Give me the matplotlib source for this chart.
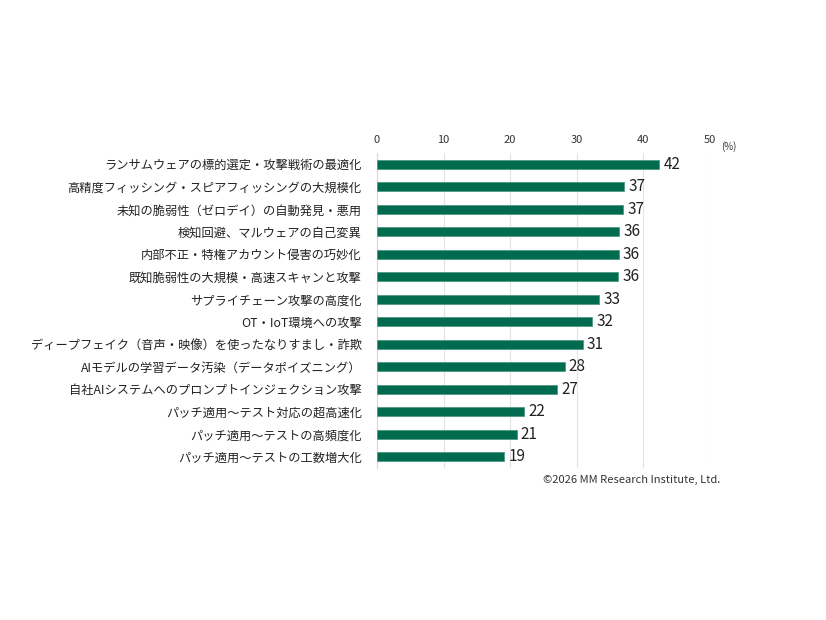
import matplotlib
matplotlib.use("Agg")
import matplotlib.pyplot as plt

plt.rcParams['font.family'] = ['Noto Sans CJK JP', 'DejaVu Sans']

categories = [
    'ランサムウェアの標的選定・攻撃戦術の最適化',
    '高精度フィッシング・スピアフィッシングの大規模化',
    '未知の脆弱性（ゼロデイ）の自動発見・悪用',
    '検知回避、マルウェアの自己変異',
    '内部不正・特権アカウント侵害の巧妙化',
    '既知脆弱性の大規模・高速スキャンと攻撃',
    'サプライチェーン攻撃の高度化',
    'OT・IoT環境への攻撃',
    'ディープフェイク（音声・映像）を使ったなりすまし・詐欺',
    'AIモデルの学習データ汚染（データポイズニング）',
    '自社AIシステムへのプロンプトインジェクション攻撃',
    'パッチ適用～テスト対応の超高速化',
    'パッチ適用～テストの高頻度化',
    'パッチ適用～テストの工数増大化',
]
values = [42.4, 37.1, 37.0, 36.4, 36.3, 36.2, 33.4, 32.3, 30.9, 28.2, 27.1, 22.1, 21.0, 19.1]
ticks = [0, 10, 20, 30, 40, 50]

fig = plt.figure(figsize=(8.26, 6.2), dpi=100)
ax = fig.add_axes([377/826, 1-468/620, 333/826, (468-153)/620])

y = list(range(len(categories)))
ax.barh(y, values, height=0.4, color='#006b4f', edgecolor='#4f9a82', linewidth=0.6, zorder=3)
for yi, v in zip(y, values):
    ax.text(v + 0.6, yi, f'{round(v)}', va='center', ha='left', fontsize=11, color='#222222')

ax.set_xlim(0, 50)
ax.set_ylim(len(categories) - 0.5, -0.5)
ax.set_xticks(ticks)
ax.xaxis.tick_top()
ax.tick_params(axis='x', length=0, labelsize=8, colors='#333333', pad=6)
ax.set_yticks(y)
ax.set_yticklabels(categories, fontsize=8.8, color='#222222')
ax.tick_params(axis='y', length=0, pad=11)
ax.grid(axis='x', color='#e3e3e3', linewidth=0.8, zorder=0)
for s in ['top', 'right', 'bottom']:
    ax.spines[s].set_visible(False)
ax.spines['left'].set_color('#d9d9d9')

fig.text(729/826, 1-147/620, '(%)', fontsize=7, ha='center', va='center', color='#333333')
fig.text(720/826, 1-480/620, '©2026 MM Research Institute, Ltd.', fontsize=8,
         ha='right', va='center', color='#333333')

fig.savefig('out.png', dpi=100)
